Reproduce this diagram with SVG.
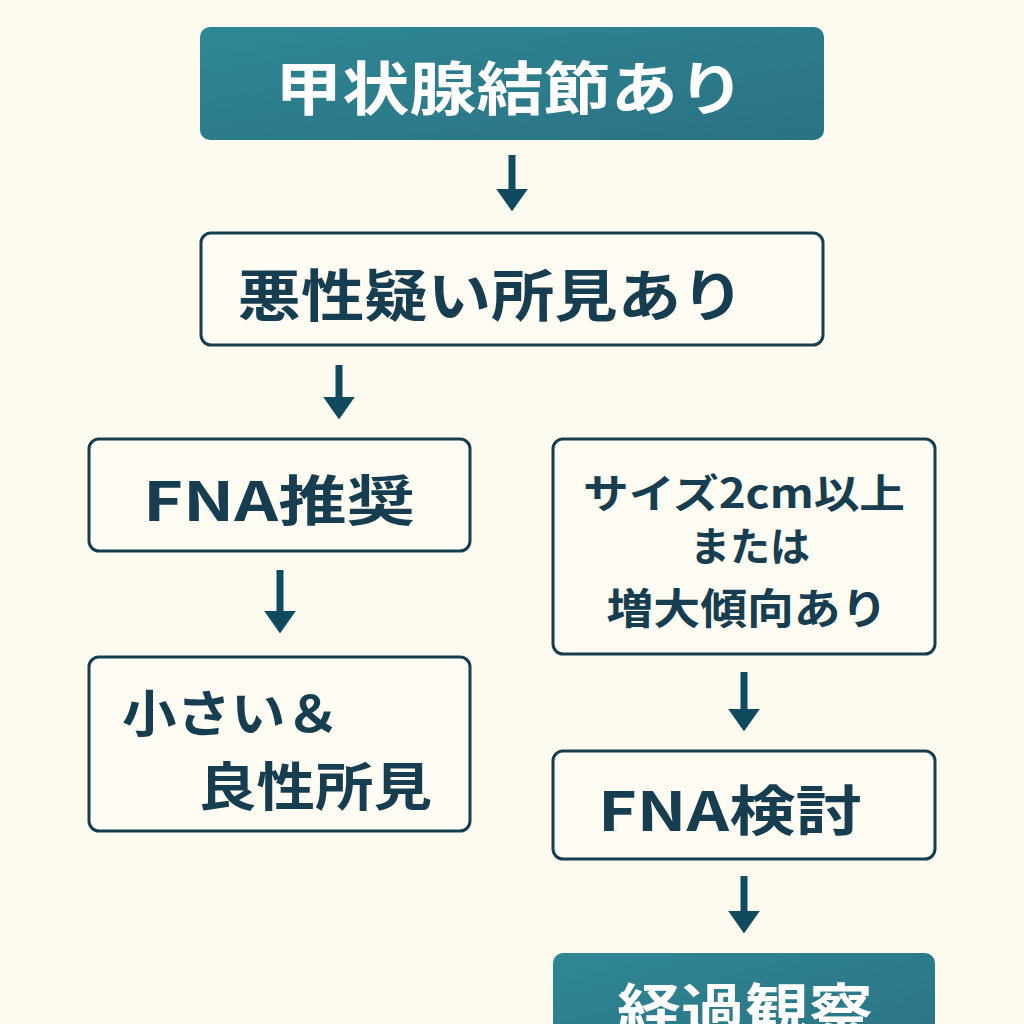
<svg xmlns="http://www.w3.org/2000/svg" width="1024" height="1024" viewBox="0 0 1024 1024">
<style>
.box{fill:#fffdf3;stroke:#163e50;stroke-width:3}
.teal{fill:url(#g);stroke:none}
.t{font-family:"Noto Sans CJK JP","Noto Sans",sans-serif;font-weight:700;fill:#163e50;text-anchor:middle}
.s{text-anchor:start}
.w{fill:#ffffff}
.c{stroke:#0f4a5e;stroke-width:7;fill:none;marker-end:url(#ah)}
</style>
<defs>
<linearGradient id="g" x1="0" y1="0" x2="1" y2="1"><stop offset="0" stop-color="#2f8794"/><stop offset="1" stop-color="#2a7183"/></linearGradient>
<marker id="ah" viewBox="0 0 10 10" refX="4" refY="5" markerWidth="3.2" markerHeight="4.5" orient="auto" markerUnits="strokeWidth" preserveAspectRatio="none"><path d="M0,0 L10,5 L0,10 z" fill="#0f4a5e"/></marker>
</defs>
<rect width="1024" height="1024" fill="#fdfbf0"/>
<g id="n1"><rect class="teal" x="200" y="27" width="624" height="113" rx="10"/><text class="t w" x="510" y="110" font-size="58" textLength="470" lengthAdjust="spacingAndGlyphs">甲状腺結節あり</text></g>
<g id="n2"><rect class="box" x="201" y="233" width="622" height="112" rx="10"/><text class="t" x="491" y="316" font-size="56" textLength="507" lengthAdjust="spacingAndGlyphs">悪性疑い所見あり</text></g>
<g id="n3"><rect class="box" x="89" y="439" width="381" height="112" rx="10"/><text class="t" x="279" y="521" font-size="54" textLength="272" lengthAdjust="spacingAndGlyphs">FNA推奨</text></g>
<g id="n4"><rect class="box" x="553" y="439" width="382" height="215" rx="10"/><text class="t" x="744" y="508" font-size="40" textLength="322" lengthAdjust="spacingAndGlyphs">サイズ2cm以上</text><text class="t" x="750" y="561" font-size="40" textLength="120" lengthAdjust="spacingAndGlyphs">または</text><text class="t" x="747" y="624" font-size="42" textLength="281" lengthAdjust="spacingAndGlyphs">増大傾向あり</text></g>
<g id="n5"><rect class="box" x="89" y="657" width="381" height="174" rx="10"/><text class="t s" x="122" y="732" font-size="50" textLength="218" lengthAdjust="spacingAndGlyphs">小さい＆</text><text class="t s" x="198" y="806" font-size="52" textLength="234" lengthAdjust="spacingAndGlyphs">良性所見</text></g>
<g id="n6"><rect class="box" x="553" y="751" width="382" height="108" rx="10"/><text class="t" x="730" y="831" font-size="54" textLength="264" lengthAdjust="spacingAndGlyphs">FNA検討</text></g>
<g id="n7"><rect class="teal" x="553" y="953" width="382" height="110" rx="10"/><text class="t w" x="745" y="1030" font-size="56" textLength="256" lengthAdjust="spacingAndGlyphs">経過観察</text></g>
<g id="connectors">
<line class="c" x1="512" y1="155" x2="512" y2="198"/>
<line class="c" x1="339" y1="365" x2="339" y2="406"/>
<line class="c" x1="280" y1="570" x2="280" y2="620"/>
<line class="c" x1="744" y1="672" x2="744" y2="718"/>
<line class="c" x1="744" y1="876" x2="744" y2="920"/>
</g>
</svg>
